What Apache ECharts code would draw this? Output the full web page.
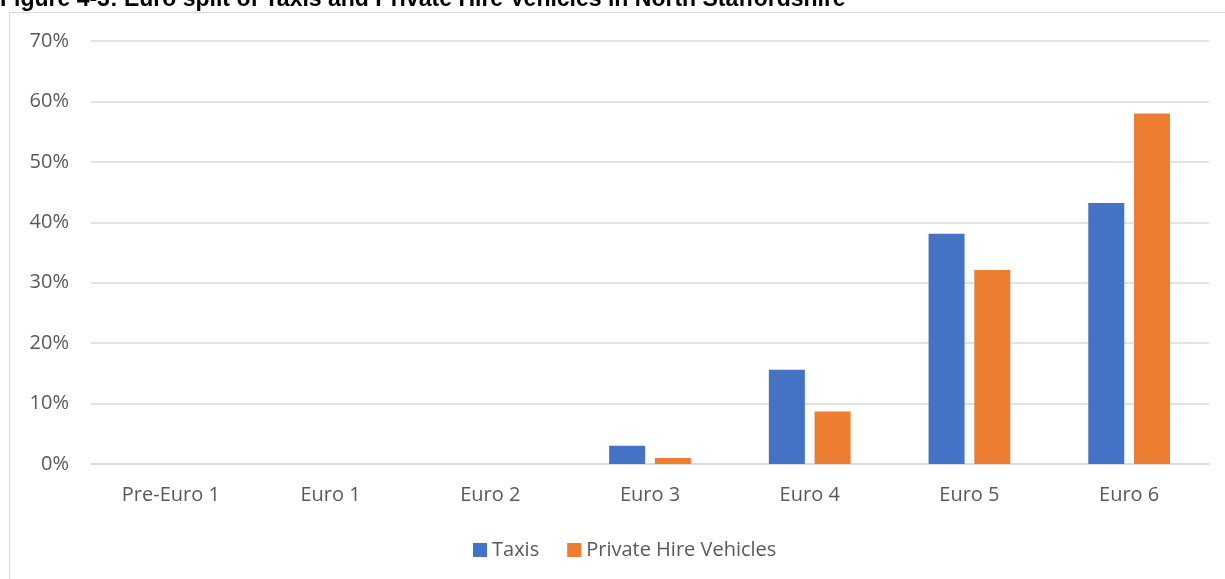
<!DOCTYPE html>
<html>
<head>
<meta charset="utf-8">
<title>Euro split of Taxis and Private Hire Vehicles</title>
<script src="https://cdn.jsdelivr.net/npm/echarts@6/dist/echarts.min.js"></script>
<style>
  html, body { margin: 0; padding: 0; background: #ffffff; }
  #chart { width: 1225px; height: 579px; }
</style>
</head>
<body>
<div id="chart"></div>
<script>
// Euro emission standard categories
const categories = ['Pre-Euro 1', 'Euro 1', 'Euro 2', 'Euro 3', 'Euro 4', 'Euro 5', 'Euro 6'];
// Share of each fleet (%) by Euro standard
const taxis = [0, 0, 0, 3.0, 15.6, 38.1, 43.2];
const privateHire = [0, 0, 0, 1.0, 8.7, 32.1, 58.0];
// Value axis ticks (%)
const yTicks = [0, 10, 20, 30, 40, 50, 60, 70];

const titleText = 'Figure 4-3: Euro split of Taxis and Private Hire Vehicles in North Staffordshire';
const labelFont = '"Open Sans", "DejaVu Sans", sans-serif';

const chart = echarts.init(document.getElementById('chart'), null, { renderer: 'canvas' });

chart.setOption({
  animation: false,
  backgroundColor: '#ffffff',
  color: ['#4472C4', '#ED7D31'],
  graphic: [
    {
      type: 'rect',
      silent: true,
      shape: { x: 9.5, y: 12.5, width: 1400, height: 800 },
      style: { fill: 'none', stroke: '#D9D9D9', lineWidth: 1 }
    },
    {
      // figure caption sits above the chart frame, running off the top edge
      type: 'text',
      silent: true,
      x: 0,
      y: 11,
      style: {
        text: titleText,
        font: 'bold 23px "Liberation Sans", Arial, sans-serif',
        fill: '#000000',
        verticalAlign: 'bottom'
      }
    }
  ],
  grid: {
    left: 91,
    right: 16,
    top: 41,
    height: 423,
    containLabel: false
  },
  legend: {
    data: ['Taxis', 'Private Hire Vehicles'],
    left: 468,
    top: 535,
    icon: 'rect',
    itemWidth: 14,
    itemHeight: 14,
    itemGap: 28,
    textStyle: { color: '#595959', fontSize: 20, fontFamily: labelFont }
  },
  xAxis: {
    type: 'category',
    data: categories,
    axisLine: { show: true, lineStyle: { color: '#D9D9D9', width: 1.5 } },
    axisTick: { show: false },
    axisLabel: { color: '#595959', fontSize: 20, fontFamily: labelFont, margin: 21 },
    splitLine: { show: false }
  },
  yAxis: {
    type: 'value',
    min: yTicks[0],
    max: yTicks[yTicks.length - 1],
    interval: yTicks[1] - yTicks[0],
    axisLine: { show: false },
    axisTick: { show: false },
    axisLabel: {
      color: '#595959',
      fontSize: 20,
      fontFamily: labelFont,
      margin: 22,
      formatter: v => v + '%'
    },
    splitLine: { lineStyle: { color: '#D9D9D9', width: 1.5 } }
  },
  series: [
    {
      name: 'Taxis',
      type: 'bar',
      data: taxis,
      barWidth: 36,
      barGap: '27%'
    },
    {
      name: 'Private Hire Vehicles',
      type: 'bar',
      data: privateHire,
      barWidth: 36,
      barGap: '27%'
    }
  ]
});
</script>
</body>
</html>
